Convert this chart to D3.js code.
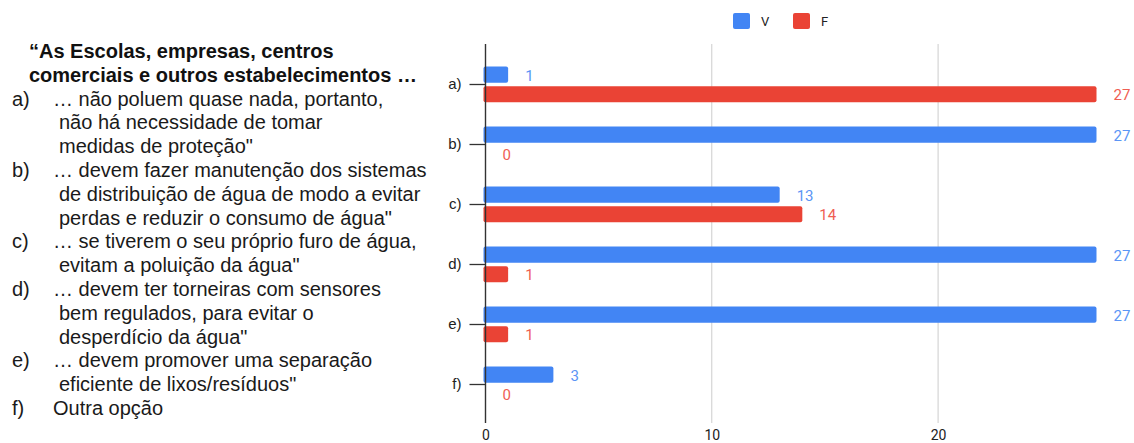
<!DOCTYPE html>
<html>
<head>
<meta charset="utf-8">
<script src="https://cdn.jsdelivr.net/npm/d3@7"></script>
<style>
  html, body { margin: 0; padding: 0; background: #fff; }
  svg { display: block; }
</style>
</head>
<body>
<svg id="chart" width="1134" height="443"></svg>
<script>
// Answers per statement: V (verdadeiro) and F (falso)
const categories = ["a)", "b)", "c)", "d)", "e)", "f)"];
const valuesV = [1, 27, 13, 27, 27, 3];
const valuesF = [27, 0, 14, 1, 1, 0];
const seriesNames = ["V", "F"];
const xTicks = [0, 10, 20];

// Statement text shown beside the chart
const titleLines = ["\u201CAs Escolas, empresas, centros", "comerciais e outros estabelecimentos \u2026"];
const statementLines = [
  ["\u2026 não poluem quase nada, portanto,", "não há necessidade de tomar", "medidas de proteção\""],
  ["\u2026 devem fazer manutenção dos sistemas", "de distribuição de água de modo a evitar", "perdas e reduzir o consumo de água\""],
  ["\u2026 se tiverem o seu próprio furo de água,", "evitam a poluição da água\""],
  ["\u2026 devem ter torneiras com sensores", "bem regulados, para evitar o", "desperdício da água\""],
  ["\u2026 devem promover uma separação", "eficiente de lixos/resíduos\""],
  ["Outra opção"]
];

const colors = { V: "#4285F4", F: "#EA4335" };
const labelColors = { V: "#5b95f5", F: "#ef5e53" };

const svg = d3.select("#chart");

// ---- left text block ----
const textG = svg.append("g")
  .attr("font-family", "'Liberation Sans', Arial, sans-serif")
  .attr("font-size", 20)
  .attr("fill", "#1a1a1a");

const lineH = 23.8;
const baseY = 58;
titleLines.forEach((t, i) => {
  textG.append("text")
    .attr("x", 29).attr("y", baseY + i * lineH)
    .attr("font-weight", "bold").attr("fill", "#111")
    .text(t);
});
let lineIdx = titleLines.length;
statementLines.forEach((lines, k) => {
  const y0 = baseY + lineIdx * lineH;
  textG.append("text").attr("x", 12).attr("y", y0).text(categories[k]);
  lines.forEach((t, j) => {
    textG.append("text")
      .attr("x", j === 0 ? 53 : 59)
      .attr("y", baseY + (lineIdx + j) * lineH)
      .text(t);
  });
  lineIdx += lines.length;
});

// ---- bar chart ----
const plot = { left: 485.5, right: 1096.5, top: 44, bottom: 423 };

const x = d3.scaleLinear().domain([0, 27]).range([plot.left, plot.right]);
const y = d3.scalePoint().domain(categories).range([45, 423]).padding(0.65);
const ySub = d3.scaleBand().domain(seriesNames).range([-17.5, 18.3]).paddingInner(0.18);

// gridlines
svg.append("g")
  .selectAll("line")
  .data(xTicks.filter(d => d !== 0))
  .join("line")
  .attr("x1", d => x(d)).attr("x2", d => x(d))
  .attr("y1", plot.top).attr("y2", plot.bottom)
  .attr("stroke", "#cccccc").attr("stroke-width", 1);

// bars
const rows = categories.map((c, i) => ({ cat: c, V: valuesV[i], F: valuesF[i] }));
const barData = rows.flatMap(r => seriesNames.map(s => ({ cat: r.cat, series: s, value: r[s] })));

svg.append("g")
  .selectAll("rect")
  .data(barData.filter(d => d.value > 0))
  .join("rect")
  .attr("x", x(0) - 2)
  .attr("y", d => y(d.cat) + ySub(d.series))
  .attr("width", d => x(d.value) - x(0) + 2)
  .attr("height", ySub.bandwidth())
  .attr("rx", 2)
  .attr("fill", d => colors[d.series]);

// value labels
svg.append("g")
  .attr("font-family", "Roboto, 'Liberation Sans', Arial, sans-serif")
  .attr("font-size", 15)
  .selectAll("text")
  .data(barData)
  .join("text")
  .attr("x", d => x(d.value) + 17)
  .attr("y", d => y(d.cat) + ySub(d.series) + ySub.bandwidth() / 2 + 1)
  .attr("dominant-baseline", "central")
  .attr("fill", d => labelColors[d.series])
  .text(d => d.value);

// y axis (category ticks)
const yAxis = d3.axisLeft(y).tickSize(16).tickPadding(8);
const yg = svg.append("g")
  .attr("transform", `translate(${plot.left},0)`)
  .call(yAxis);
yg.select(".domain").remove();
yg.selectAll(".tick line").attr("stroke", "#333").attr("stroke-width", 1.3);
yg.selectAll(".tick text")
  .attr("font-family", "'Liberation Sans', Arial, sans-serif")
  .attr("font-size", 15)
  .attr("fill", "#222");

svg.append("line")
  .attr("x1", plot.left).attr("x2", plot.left)
  .attr("y1", plot.top).attr("y2", plot.bottom)
  .attr("stroke", "#333").attr("stroke-width", 1.4);

// x axis labels
const xAxis = d3.axisBottom(x).tickValues(xTicks).tickSize(0).tickPadding(7);
const xg = svg.append("g")
  .attr("transform", `translate(0,${plot.bottom})`)
  .call(xAxis);
xg.select(".domain").remove();
xg.selectAll(".tick text")
  .attr("font-family", "Roboto, 'Liberation Sans', Arial, sans-serif")
  .attr("font-size", 14)
  .attr("fill", "#222");

// legend
const legend = svg.append("g")
  .attr("font-family", "Roboto, 'Liberation Sans', Arial, sans-serif")
  .attr("font-size", 13);
const legendX = d3.scalePoint().domain(seriesNames).range([733, 793]);
const item = legend.selectAll("g")
  .data(seriesNames)
  .join("g")
  .attr("transform", d => `translate(${legendX(d)},13)`);
item.append("rect")
  .attr("width", 17).attr("height", 16).attr("rx", 2)
  .attr("fill", d => colors[d]);
item.append("text")
  .attr("x", 28).attr("y", 8)
  .attr("dominant-baseline", "central")
  .attr("fill", "#222")
  .text(d => d);
</script>
</body>
</html>
